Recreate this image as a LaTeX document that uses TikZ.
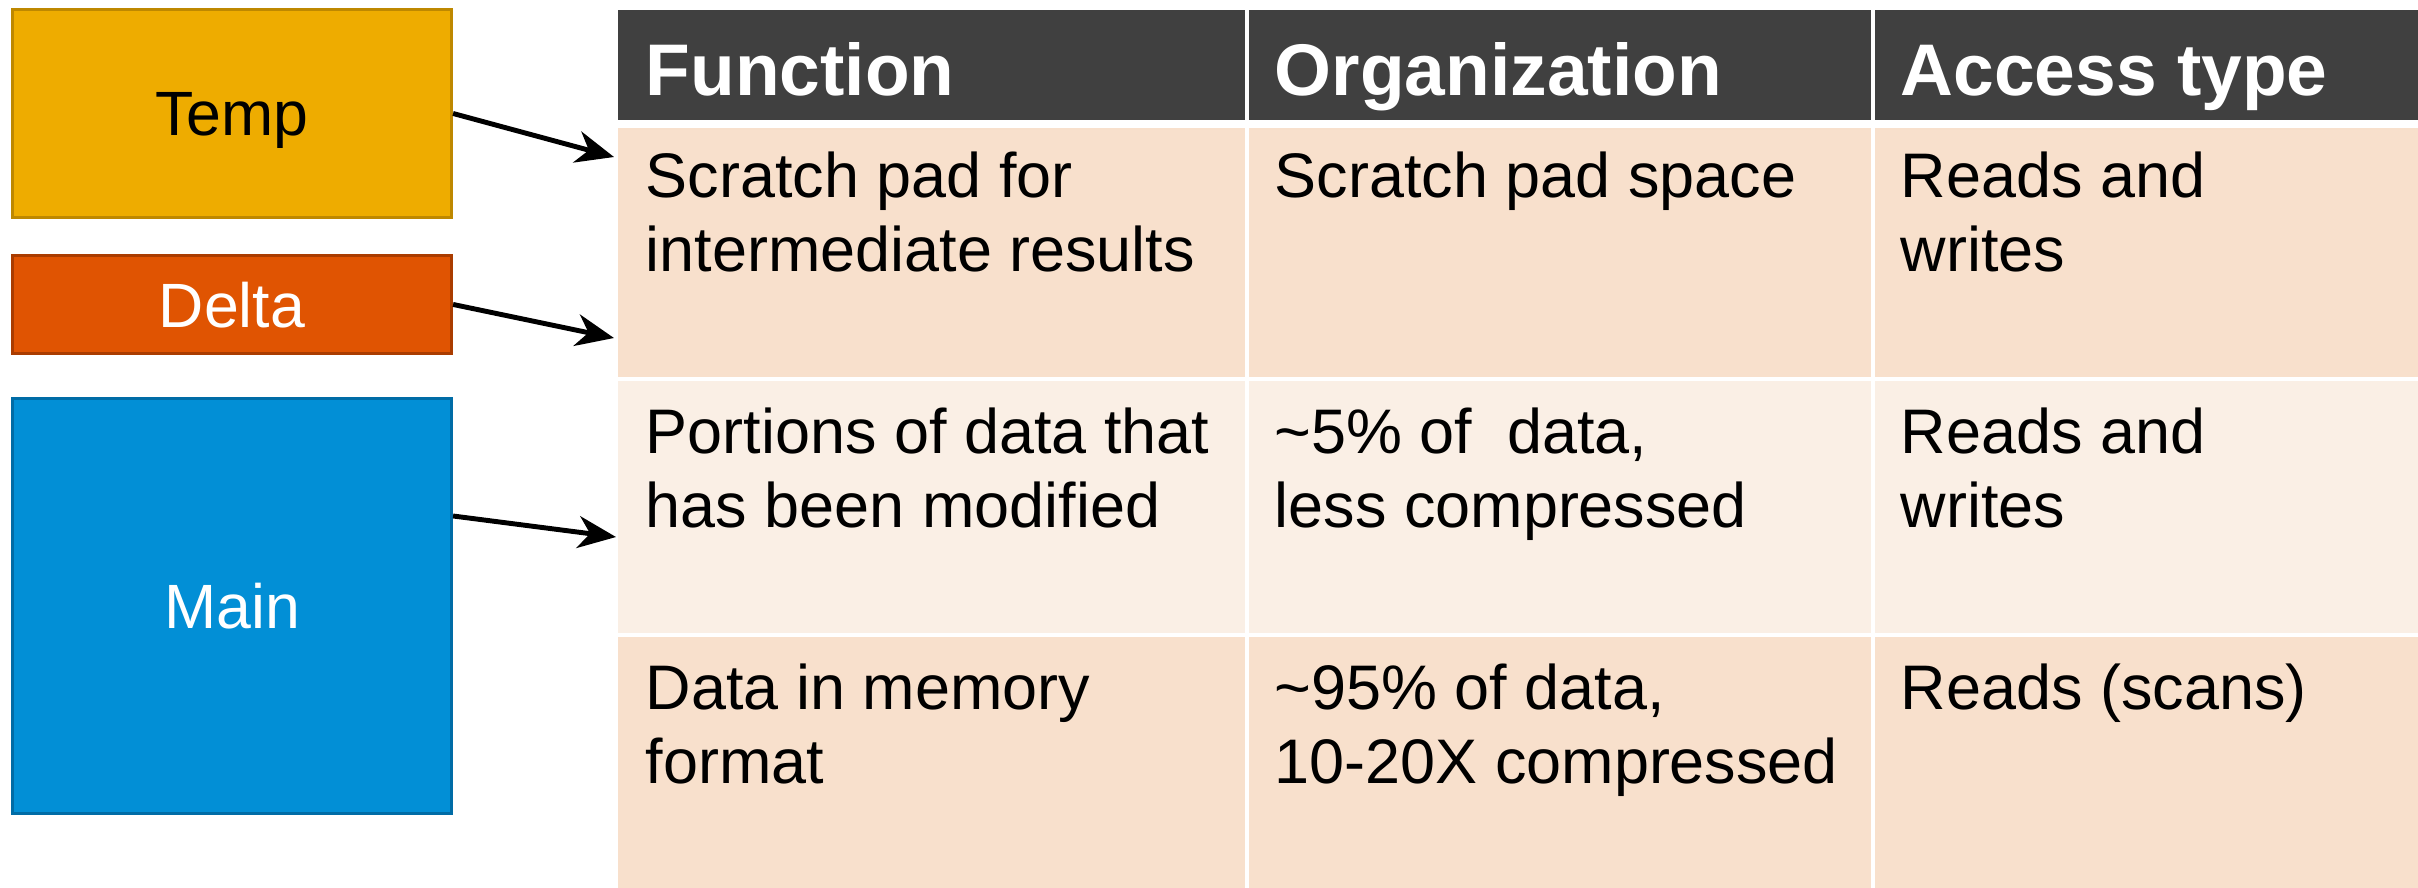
\documentclass[tikz,border=0pt]{standalone}
\usepackage{fontspec}
\setmainfont{Liberation Sans}
\usetikzlibrary{arrows.meta}

\definecolor{tempfill}{RGB}{238,172,0}
\definecolor{templine}{RGB}{190,136,0}
\definecolor{deltafill}{RGB}{224,84,2}
\definecolor{deltaline}{RGB}{170,60,0}
\definecolor{mainfill}{RGB}{2,143,214}
\definecolor{mainline}{RGB}{0,108,166}
\definecolor{headgray}{RGB}{64,64,64}
\definecolor{rowdark}{RGB}{248,224,204}
\definecolor{rowlight}{RGB}{250,239,229}

\tikzset{
  store/.style={draw, line width=0.8pt, inner sep=0pt, anchor=north west, text depth=0pt,
    minimum width=4.39cm, font=\fontsize{17.8}{21}\selectfont},
  cell/.style={anchor=north west, inner sep=0pt},
  headtext/.style={anchor=base west, inner sep=0pt, text=white,
    font=\bfseries\fontsize{20.8}{24}\selectfont},
  celltext/.style={anchor=north west, inner sep=0pt, align=left,
    font=\fontsize{17.9}{21.05}\selectfont},
  feed/.style={-{Stealth[length=0.38cm,width=0.32cm,inset=0.12cm]}, line width=1.4pt}
}

\begin{document}
\begin{tikzpicture}[x=0.01cm, y=-0.01cm]
  \useasboundingbox (0,0) rectangle (2418,887);

  % stores on the left
  \node[store, fill=tempfill, draw=templine, minimum height=2.08cm] (temp) at (11,8) {Temp};
  \node[store, fill=deltafill, draw=deltaline, text=white, minimum height=0.98cm] (delta) at (11,254) {Delta};
  \node[store, fill=mainfill, draw=mainline, text=white, minimum height=4.15cm] (main) at (11,397) {Main};

  % table cells
  \node[cell, fill=headgray, minimum width=6.27cm, minimum height=1.10cm] (fun0) at (617,9) {};
  \node[cell, fill=headgray, minimum width=6.22cm, minimum height=1.10cm] (org0) at (1248,9) {};
  \node[cell, fill=headgray, minimum width=5.44cm, minimum height=1.10cm] (acc0) at (1874,9) {};

  \node[cell, fill=rowdark, minimum width=6.27cm, minimum height=2.49cm] (fun1) at (617,127) {};
  \node[cell, fill=rowdark, minimum width=6.22cm, minimum height=2.49cm] (org1) at (1248,127) {};
  \node[cell, fill=rowdark, minimum width=5.44cm, minimum height=2.49cm] (acc1) at (1874,127) {};

  \node[cell, fill=rowlight, minimum width=6.27cm, minimum height=2.52cm] (fun2) at (617,380) {};
  \node[cell, fill=rowlight, minimum width=6.22cm, minimum height=2.52cm] (org2) at (1248,380) {};
  \node[cell, fill=rowlight, minimum width=5.44cm, minimum height=2.52cm] (acc2) at (1874,380) {};

  \node[cell, fill=rowdark, minimum width=6.27cm, minimum height=2.51cm] (fun3) at (617,636) {};
  \node[cell, fill=rowdark, minimum width=6.22cm, minimum height=2.51cm] (org3) at (1248,636) {};
  \node[cell, fill=rowdark, minimum width=5.44cm, minimum height=2.51cm] (acc3) at (1874,636) {};

  % header texts
  \node[headtext] (funhead) at ([xshift=0.28cm, yshift=-0.86cm]fun0.north west) {Function};
  \node[headtext] (orghead) at ([xshift=0.26cm, yshift=-0.86cm]org0.north west) {Organization};
  \node[headtext] (acchead) at ([xshift=0.26cm, yshift=-0.86cm]acc0.north west) {Access type};

  % body texts
  \node[celltext] (funtext1) at ([xshift=0.28cm, yshift=-0.245cm]fun1.north west) {Scratch pad for\\intermediate results};
  \node[celltext] (orgtext1) at ([xshift=0.26cm, yshift=-0.245cm]org1.north west) {Scratch pad space};
  \node[celltext] (acctext1) at ([xshift=0.26cm, yshift=-0.245cm]acc1.north west) {Reads and\\writes};

  \node[celltext] (funtext2) at ([xshift=0.28cm, yshift=-0.27cm]fun2.north west) {Portions of data that\\has been modified};
  \node[celltext] (orgtext2) at ([xshift=0.26cm, yshift=-0.27cm]org2.north west) {\textasciitilde5\% of\ \ data,\\less compressed};
  \node[celltext] (acctext2) at ([xshift=0.26cm, yshift=-0.27cm]acc2.north west) {Reads and\\writes};

  \node[celltext] (funtext3) at ([xshift=0.28cm, yshift=-0.27cm]fun3.north west) {Data in memory\\format};
  \node[celltext] (orgtext3) at ([xshift=0.26cm, yshift=-0.27cm]org3.north west) {\textasciitilde95\% of data,\\10-20X compressed};
  \node[celltext] (acctext3) at ([xshift=0.26cm, yshift=-0.27cm]acc3.north west) {Reads (scans)};

  % arrows into the table
  \coordinate (temptip) at (614,157);
  \coordinate (deltatip) at (614,338);
  \coordinate (maintip) at (616,537);
  \draw[feed] (temp.east) -- (temptip);
  \draw[feed] (delta.east) -- (deltatip);
  \draw[feed] ([yshift=0.9cm]main.east) -- (maintip);
\end{tikzpicture}
\end{document}
